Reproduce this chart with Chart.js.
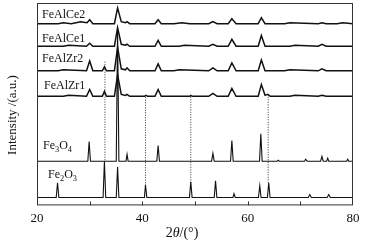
<!DOCTYPE html>
<html>
<head>
<meta charset="utf-8">
<script src="https://cdn.jsdelivr.net/npm/chart.js@4/dist/chart.umd.min.js"></script>
<style>
  html, body { margin: 0; padding: 0; background: #fff; }
  #wrap { width: 368px; height: 244px; }
</style>
</head>
<body>
<div id="wrap"><canvas id="chart"></canvas></div>
<script>
// =======================
// Data (2theta in degrees, intensity in a.u.)
// =======================
const sampleNames = ["FeAlCe2", "FeAlCe1", "FeAlZr2", "FeAlZr1", "Fe3O4", "Fe2O3"];
const stackOffsets = [185, 162, 137, 111, 45, 8];

const feAlCe2Angle = [20, 24, 25, 26.5, 28.3, 29.5, 30.0, 30.6, 34.7, 35.3, 36.0, 36.8, 37.1, 37.6, 42.4, 43.0, 43.6, 46, 47.5, 49, 52.6, 53.4, 54.2, 56.3, 57.0, 57.8, 62.0, 62.6, 63.3, 67, 68, 73.4, 74.1, 74.9, 77, 78, 80];
const feAlCe2Int   = [0, 0, 1, 0, 2, 1, 4, 0, 0, 16, 2, 1, 2, 0, 0, 4, 0, 0, 1, 0, 0, 2, 0, 0, 5, 0, 0, 6, 0, 0, 1, 0, 1, 0, 0, 1, 0];

const feAlCe1Angle = [20, 25, 26, 29.4, 30.0, 30.6, 34.7, 35.3, 36.0, 36.8, 37.1, 37.6, 42.4, 43.0, 43.6, 47, 48, 52.6, 53.4, 54.2, 56.3, 57.0, 57.8, 62.0, 62.6, 63.3, 68, 69, 73.4, 74.1, 74.9, 80];
const feAlCe1Int   = [0, 0, 1, 0, 3, 0, 0, 19, 2, 1, 2, 0, 0, 6, 0, 0, 1, 0, 2, 0, 0, 7, 0, 0, 11, 0, 0, 1, 0, 2, 0, 0];

const feAlZr2Angle = [20, 24, 25, 29.4, 30.0, 30.6, 32.4, 32.8, 33.2, 34.7, 35.3, 36.0, 36.8, 37.1, 37.6, 42.4, 43.0, 43.6, 46, 47, 52.6, 53.4, 54.2, 56.3, 57.0, 57.8, 62.0, 62.6, 63.3, 67, 68, 73.4, 74.1, 74.9, 80];
const feAlZr2Int   = [0, 0, 1, 0, 10, 0, 0, 4, 0, 0, 24, 2, 1, 3, 0, 0, 7, 0, 0, 1, 0, 3, 0, 0, 8, 0, 0, 11, 0, 0, 1, 0, 2, 0, 0];

const feAlZr1Angle = [20, 25, 26, 29.4, 30.0, 30.6, 32.4, 32.8, 33.2, 34.7, 35.3, 36.0, 36.8, 37.1, 37.6, 40.4, 40.7, 41.0, 42.4, 43.0, 43.6, 49.0, 49.2, 49.5, 52.6, 53.4, 54.2, 56.3, 57.0, 57.8, 62.0, 62.6, 63.3, 63.8, 64.3, 68, 69, 73.4, 74.1, 74.9, 80];
const feAlZr1Int   = [0, 0, 1, 0, 7, 0, 0, 5, 0, 0, 22, 2, 1, 2, 0, 0, 1, 0, 0, 7, 0, 0, 1, 0, 0, 3, 0, 0, 8, 0, 0, 12, 1, 2, 0, 0, 1, 0, 1, 0, 0];

const fe3o4Angle = [20, 29.65, 29.9, 30.15, 35.05, 35.3, 35.55, 36.9, 37.1, 37.3, 42.75, 43.0, 43.25, 53.15, 53.4, 53.65, 56.75, 57.0, 57.25, 62.25, 62.5, 62.75, 65.6, 65.8, 66.0, 70.8, 71.0, 71.3, 73.85, 74.1, 74.35, 75.0, 75.2, 75.4, 78.8, 79.0, 79.2, 80];
const fe3o4Int   = [0, 0, 20, 0, 0, 134, 0, 0, 7, 0, 0, 16, 0, 0, 8, 0, 0, 21, 0, 0, 28, 0, 0, 1, 0, 0, 2, 0, 0, 5, 0, 0, 3, 0, 0, 2, 0, 0];

const fe2o3Angle = [20, 23.65, 23.9, 24.15, 32.55, 32.8, 33.05, 35.05, 35.3, 35.55, 40.4, 40.6, 40.85, 48.95, 49.2, 49.45, 53.65, 53.9, 54.15, 57.2, 57.4, 57.65, 62.05, 62.3, 62.55, 63.75, 64.0, 64.25, 71.5, 71.8, 72.1, 75.1, 75.4, 75.7, 80];
const fe2o3Int   = [0, 0, 15, 0, 0, 37, 0, 0, 31, 0, 0, 13, 0, 0, 16, 0, 0, 17, 0, 0, 4, 0, 0, 12, 0, 0, 15, 0, 0, 3, 0, 0, 3, 0, 0];

// reference lines (dotted)
const refAngle = [32.9, 40.6, 49.2, 63.9];
const refFrom  = [46, 20, 23, 23];
const refTo    = [147, 112, 111, 114];

const xTicks = [20, 30, 40, 50, 60, 70, 80];

// =======================
// Build datasets
// =======================
const seriesAngles = [feAlCe2Angle, feAlCe1Angle, feAlZr2Angle, feAlZr1Angle, fe3o4Angle, fe2o3Angle];
const seriesInts   = [feAlCe2Int, feAlCe1Int, feAlZr2Int, feAlZr1Int, fe3o4Int, fe2o3Int];

const datasets = sampleNames.map((name, i) => ({
  label: name,
  data: seriesAngles[i].map((a, j) => ({ x: a, y: stackOffsets[i] + seriesInts[i][j] })),
  borderColor: "#111",
  borderWidth: i < 4 ? 1.5 : 1.1,
  pointRadius: 0,
  tension: 0
}));

refAngle.forEach((a, i) => {
  datasets.push({
    label: "ref" + i,
    data: [{ x: a, y: refFrom[i] }, { x: a, y: refTo[i] }],
    borderColor: "#333",
    borderWidth: 1,
    borderDash: [1, 1.5],
    pointRadius: 0
  });
});

const SERIF = "'Liberation Serif', 'DejaVu Serif', serif";

// draws names; digits in oxide formulas are subscripts
function drawChem(ctx, text, x, y, size) {
  const oxide = !text.startsWith("FeAl");
  let cx = x;
  for (const ch of text) {
    const sub = oxide && /[0-9]/.test(ch);
    ctx.font = (sub ? size * 0.7 : size) + "px " + SERIF;
    ctx.fillText(ch, cx, sub ? y + 3 : y);
    cx += ctx.measureText(ch).width;
  }
}

const decor = {
  id: "decor",
  afterDraw(chart) {
    const { ctx, chartArea: area, scales } = chart;
    const xs = scales.x, ys = scales.y;
    ctx.save();
    // frame
    ctx.strokeStyle = "#333";
    ctx.lineWidth = 1;
    ctx.strokeRect(area.left + 0.5, area.top + 0.5, area.right - area.left - 1, area.bottom - area.top - 1);
    // inward ticks
    xs.ticks.forEach(t => {
      if (t.value <= 20 || t.value >= 80) return;
      const px = Math.round(xs.getPixelForValue(t.value)) + 0.5;
      ctx.beginPath();
      ctx.moveTo(px, area.bottom);
      ctx.lineTo(px, area.bottom - 4);
      ctx.stroke();
    });
    // sample names
    ctx.fillStyle = "#111";
    ctx.textBaseline = "alphabetic";
    const nameDx = [5, 5, 5, 7, 6, 11];
    const nameDy = [6, 4, 9, 7, 12, 20];
    sampleNames.forEach((n, i) => {
      drawChem(ctx, n, area.left + nameDx[i], ys.getPixelForValue(stackOffsets[i]) - nameDy[i], 12);
    });
    // x title: 2θ/(°)
    const parts = [["2", false], ["\u03b8", true], ["/(\u00b0)", false]];
    let w = 0;
    parts.forEach(p => { ctx.font = (p[1] ? "italic " : "") + "14px " + SERIF; w += ctx.measureText(p[0]).width; });
    let tx = 182 - w / 2;
    parts.forEach(p => {
      ctx.font = (p[1] ? "italic " : "") + "14px " + SERIF;
      ctx.fillText(p[0], tx, 237);
      tx += ctx.measureText(p[0]).width;
    });
    // y title
    ctx.translate(13, 115);
    ctx.rotate(-Math.PI / 2);
    ctx.font = "13px " + SERIF;
    ctx.textAlign = "center";
    ctx.textBaseline = "middle";
    ctx.fillText("Intensity /(a.u.)", 0, 0);
    ctx.restore();
  }
};

new Chart(document.getElementById("chart"), {
  type: "line",
  data: { datasets },
  options: {
    responsive: true,
    maintainAspectRatio: false,
    animation: false,
    layout: { padding: { left: 37, right: 15, top: 3, bottom: 13 } },
    plugins: { legend: { display: false }, tooltip: { enabled: false } },
    scales: {
      x: {
        type: "linear",
        min: 20,
        max: 80,
        afterBuildTicks: s => { s.ticks = xTicks.map(v => ({ value: v })); },
        ticks: {
          color: "#111",
          font: { family: SERIF, size: 13 },
          padding: 5,
          maxRotation: 0,
          callback: v => (v % 20 === 0 ? String(v) : "")
        },
        grid: { display: false, drawTicks: false },
        border: { display: false }
      },
      y: { display: false, min: 0, max: 206 }
    }
  },
  plugins: [decor]
});
</script>
</body>
</html>
